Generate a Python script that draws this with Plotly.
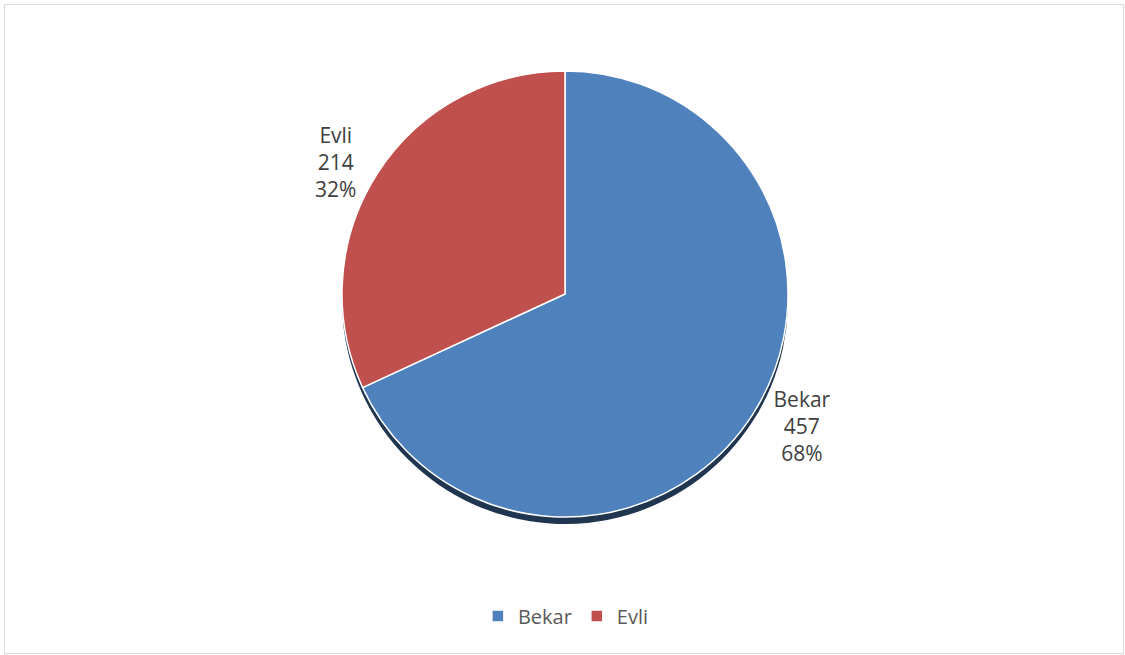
import plotly.graph_objects as go

labels = ["Bekar", "Evli"]
values = [457, 214]
colors = ["#4F81BD", "#C0504D"]
shadow_color = "#1F3550"

W, H = 1125, 655
cx, cy, r = 565, 294, 223
dom_x = [(cx - r) / W, (cx + r) / W]
dom_y = [1 - (cy + r) / H, 1 - (cy - r) / H]
sh_y = 7 / H

FONT = "Open Sans, Liberation Sans, sans-serif"

fig = go.Figure()
# shadow
fig.add_trace(go.Pie(
    labels=labels, values=values, sort=False, direction="clockwise", rotation=0,
    marker=dict(colors=[shadow_color, shadow_color]),
    textinfo="none", hoverinfo="skip", showlegend=False,
    domain=dict(x=dom_x, y=[dom_y[0] - sh_y, dom_y[1] - sh_y]),
))
fig.add_trace(go.Pie(
    labels=labels, values=values, sort=False, direction="clockwise", rotation=0,
    marker=dict(colors=colors, line=dict(color="#FFFFFF", width=1.5)),
    texttemplate="%{label}<br>%{value}<br>%{percent:.0%}",
    textposition="outside",
    outsidetextfont=dict(family=FONT, size=21, color="#404040"),
    domain=dict(x=dom_x, y=dom_y),
))

fig.update_layout(
    width=W, height=H,
    margin=dict(l=0, r=0, t=0, b=0),
    paper_bgcolor="white", plot_bgcolor="white",
    showlegend=True,
    legend=dict(orientation="h", x=0.503, xanchor="center", y=1 - 616 / H, yanchor="middle",
                font=dict(family=FONT, size=20, color="#595959"),
                itemwidth=30, traceorder="normal"),
    shapes=[dict(type="rect", xref="paper", yref="paper",
                 x0=4.5 / W, x1=1123.5 / W, y0=1 - 653.5 / H, y1=1 - 4.5 / H,
                 line=dict(color="#D9D9D9", width=1), fillcolor="rgba(0,0,0,0)", layer="below")],
)

fig.write_html("out.html", config={"displayModeBar": False},
               post_script="document.body.style.margin='0';")
